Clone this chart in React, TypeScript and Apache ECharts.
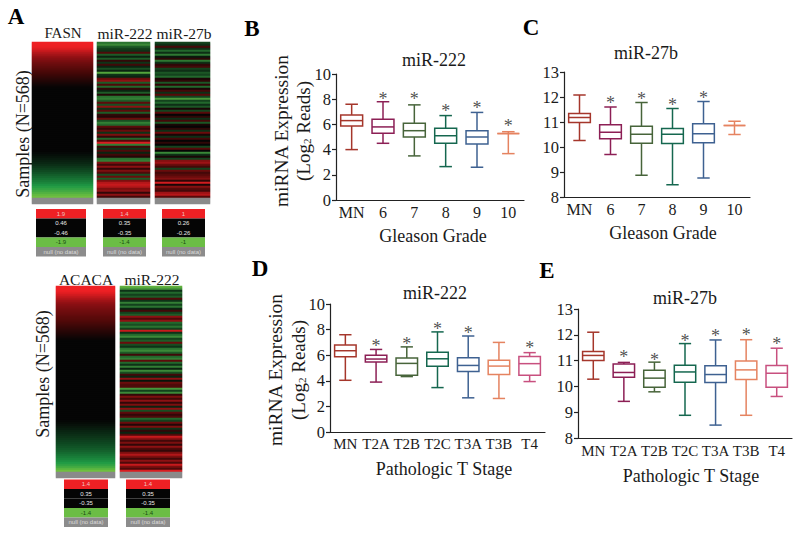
import React, { useEffect, useRef } from "react";
import * as echarts from "echarts";

const NULL_VALUE = 99;

const gleasonLabels = ["MN", "6", "7", "8", "9", "10"];
const stageLabels = ["MN", "T2A", "T2B", "T2C", "T3A", "T3B", "T4"];

// [min, q1, median, q3, max]
const boxB = [
  [4.0, 5.87, 6.3, 6.75, 7.6],
  [4.5, 5.3, 5.8, 6.4, 7.8],
  [3.5, 5.0, 5.5, 6.1, 7.55],
  [2.65, 4.5, 5.1, 5.7, 6.7],
  [2.6, 4.45, 5.0, 5.5, 6.95],
  [3.68, 5.27, 5.27, 5.27, 5.42],
];
const starB = [null, 8.33, 8.3, 7.4, 7.6, 6.16];

const boxC = [
  [10.26, 10.98, 11.18, 11.34, 12.08],
  [9.7, 10.33, 10.59, 10.89, 11.6],
  [8.87, 10.15, 10.51, 10.83, 11.78],
  [8.49, 10.14, 10.51, 10.74, 11.54],
  [8.76, 10.17, 10.53, 10.93, 11.82],
  [10.5, 10.86, 10.86, 10.86, 11.03],
];
const starC = [null, 11.94, 12.08, 11.84, 12.14, null];

const boxD = [
  [4.04, 5.88, 6.35, 6.8, 7.6],
  [3.9, 5.47, 5.7, 6.0, 6.45],
  [4.33, 4.43, 5.36, 5.78, 6.65],
  [3.47, 5.13, 5.72, 6.24, 7.82],
  [2.67, 4.72, 5.2, 5.8, 7.5],
  [2.62, 4.5, 5.15, 5.6, 7.0],
  [3.94, 4.43, 5.34, 5.9, 6.2],
];
const starD = [null, 7.05, 7.18, 8.39, 8.03, null, 6.87];

const boxE = [
  [10.28, 11.0, 11.2, 11.35, 12.1],
  [9.42, 10.35, 10.54, 10.87, 10.93],
  [9.79, 9.97, 10.32, 10.63, 10.94],
  [8.88, 10.16, 10.56, 10.82, 11.66],
  [8.5, 10.15, 10.46, 10.8, 11.8],
  [8.88, 10.27, 10.64, 10.98, 11.81],
  [9.61, 9.97, 10.51, 10.81, 11.48],
];
const starE = [null, 11.31, 11.18, 11.93, 12.12, 12.15, 11.81];

const boxColors = ["#a5362b", "#8c1f55", "#47643a", "#15674f", "#3e6191", "#e58360", "#c8507f"];

const fasnValues = [
  1.9, 1.9, 1.88, 1.82, 1.72, 1.62, 1.54, 1.46, 1.38, 1.3,
  1.22, 1.16, 1.1, 1.04, 0.98, 0.92, 0.86, 0.8, 0.74, 0.68,
  0.62, 0.56, 0.5, 0.46, 0.42, 0.39, 0.36, 0.33, 0.3, 0.27,
  0.24, 0.21, 0.18, 0.15, 0.12, 0.1, 0.07, 0.04, 0.02, 0,
  -0.02, -0.04, -0.07, -0.1, -0.12, -0.15, -0.18, -0.21, -0.24, -0.27,
  -0.3, -0.34, -0.38, -0.42, -0.46, -0.5, -0.54, -0.58, -0.62, -0.66,
  -0.7, -0.76, -0.82, -0.88, -0.94, -1, -1.06, -1.12, -1.18, -1.24,
  -1.3, -1.38, -1.46, -1.54, -1.62, -1.72, -1.82, -1.9,
];

const topMiR222 = [
  -0.8, -1.0, -0.6, -0.4, -0.3, 0.5, -0.6, -0.2, -0.6, 0.3,
  -0.3, 0.4, -0.2, -0.5, -0.2, -1.2, -0.3, -0.2, 0.7, 0.9,
  -0.6, 0.5, -0.7, 0.3, -0.2, -0.6, 0.2, -0.8, -0.9, -0.6,
  0.6, -0.5, 0.9, -0.3, 0.6, -0.6, 0.3, 0.2, 0.7, -0.5,
  -0.9, -0.7, 0.6, 0.3, 0.7, -0.3, 0.8, 0.3, -0.7, 0.5,
  1.3, -0.9, 0.4, -0.3, 0.5, -0.2, 0.4, 0.2, -0.8, -0.9,
  0.8, 0.4, 0.9, 0.3, 0.8, 0.5, -0.5, 0.7, -0.6, 0.8,
  1.1, 1.2, 1.1, 0.8, 0.9, 0.3, 0.9, 0.4,
];

const topMiR27b = [
  -0.3, -0.2, 0.3, -0.2, -0.5, -0.2, -0.6, -0.1, 0.2, -0.6,
  -0.2, 0.2, 0.3, -0.3, -0.2, -0.4, -0.3, -0.5, 0.1, 0.2,
  -0.4, 0.2, -0.5, 0.1, 0.3, -0.2, 0.4, -0.3, -0.8, -0.3,
  -0.5, -0.2, -0.4, 0.1, -0.3, 0.4, 0.0, 0.2, -0.2, 0.3,
  -0.4, 0.1, 0, 0.2, -0.2, 0.5, 0.1, -0.2, 0.3, 0,
  0.2, 0, -0.3, 0.4, 0, -0.7, -0.2, 0.1, -0.3, 0.6,
  0.7, 0.5, 0.3, -0.3, 0.5, 0.3, 0.4, 0.5, 0.6, 0.2,
  0.9, 0.1, 0.6, 0.4, 0.3, 0.7, 0.8, 0.4,
];

const acacaValues = [
  1.4, 1.4, 1.4, 1.36, 1.3, 1.24, 1.18, 1.12, 1.07, 1.02,
  0.98, 0.94, 0.9, 0.87, 0.84, 0.8, 0.77, 0.74, 0.7, 0.66,
  0.62, 0.58, 0.54, 0.5, 0.46, 0.42, 0.38, 0.35, 0.33, 0.31,
  0.29, 0.27, 0.25, 0.23, 0.21, 0.19, 0.17, 0.15, 0.14, 0.12,
  0.1, 0.09, 0.07, 0.05, 0.04, 0.02, 0.01, 0, -0.01, -0.02,
  -0.04, -0.05, -0.07, -0.08, -0.1, -0.12, -0.14, -0.16, -0.18, -0.2,
  -0.22, -0.24, -0.26, -0.28, -0.3, -0.32, -0.34, -0.36, -0.38, -0.41,
  -0.44, -0.47, -0.5, -0.53, -0.56, -0.59, -0.62, -0.65, -0.68, -0.71,
  -0.74, -0.77, -0.8, -0.84, -0.88, -0.92, -0.96, -1.0, -1.06, -1.12,
  -1.2, -1.3, -1.4,
];

const bottomMiR222 = [
  -1.3, -1.1, -0.3, -0.7, -0.4, -0.6, 0.5, -0.3, -0.9, -0.4,
  -0.8, -0.2, 0.4, -0.4, -0.6, 0.9, 0.5, 0.9, -0.7, -0.5,
  -0.8, -0.4, 1.2, -0.3, -0.7, -1.0, -0.4, -0.6, 0.7, -0.5,
  -0.3, -0.8, -1.0, -0.6, 0.4, -0.7, -0.9, 0.6, -0.7, -0.3,
  -0.9, -0.2, -1.0, -0.5, 0.4, -0.2, 0.9, -0.1, 0.7, 0.5,
  0.5, -1.1, -0.4, -1.0, 0.3, 0.8, 0.4, 0.9, 0.3, 0.8,
  -0.2, 0.9, -0.5, 0.6, 0.3, 0.5, -0.7, -0.4, 0.7, 0.2,
  0.8, -0.3, 0.3, -0.2, 0.5, 1.2, 0.9, 0.4, 0.8, 0.3,
  0.9, 0.5, 0.3, 0.8, 1.1, 0.8, 0.4, 0.9, 0.5, 1.2,
  0.8, 0.5, 1.3,
];

const legendFasn = ["1.9", "0.46", "-0.46", "-1.9", "null (no data)"];
const legend222 = ["1.4", "0.35", "-0.35", "-1.4", "null (no data)"];
const legend27b = ["1", "0.26", "-0.26", "-1", "null (no data)"];

const SERIF = "Liberation Serif";
const gradientStops = ["#6fbf3f", "#1f9a45", "#0f4a22", "#050505", "#050505", "#050505", "#4a0808", "#8e1014", "#ee2024"];
const stripeStops = ["#6fbf3f", "#3f8f3a", "#22682c", "#103a1a", "#050505", "#3a0808", "#6a0c0c", "#a81518", "#ee2024"];

function text(s: string, x: number, y: number, fontSize: number, extra: any = {}, rotation = 0) {
  return {
    type: "text",
    x,
    y,
    rotation,
    silent: true,
    style: {
      text: s,
      fontFamily: SERIF,
      fontSize,
      fill: "#1a1a1a",
      textAlign: "center",
      textVerticalAlign: "middle",
      ...extra,
    },
  };
}

function legendTile(labels: string[], x: number, y: number, w: number) {
  const rows = [
    { h: 9.5, c: "#ee2024", t: "#f0c0c0" },
    { h: 9.5, c: "#050505", t: "#e8e8e8" },
    { h: 9.5, c: "#050505", t: "#e8e8e8" },
    { h: 9.5, c: "#6bbd45", t: "#174d12" },
    { h: 9.5, c: "#8c8c8c", t: "#dcdcdc" },
  ];
  const out: any[] = [];
  let cy = y;
  rows.forEach((r, i) => {
    out.push({ type: "rect", silent: true, shape: { x, y: cy, width: w, height: r.h }, style: { fill: r.c } });
    out.push(text(labels[i], x + w / 2, cy + r.h / 2, 6, { fontFamily: "Liberation Sans", fill: r.t }));
    cy += r.h;
  });
  return out;
}

export default function App() {
  const ref = useRef<HTMLDivElement>(null);

  useEffect(() => {
    const chart = echarts.init(ref.current!, undefined, { renderer: "svg" });

    const grids: any[] = [];
    const xAxes: any[] = [];
    const yAxes: any[] = [];
    const series: any[] = [];
    const visualMaps: any[] = [];

    const addHeat = (values: number[], left: number, top: number, width: number, nullRows: number, scale: number, stops: string[]) => {
      const idx = grids.length;
      const n = values.length + nullRows;
      grids.push({ left, top, width, height: n * 2 });
      xAxes.push({ gridIndex: idx, type: "category", data: ["c"], show: false });
      yAxes.push({
        gridIndex: idx,
        type: "category",
        data: Array.from({ length: n }, (_, i) => String(i)),
        inverse: true,
        show: false,
      });
      visualMaps.push({
        show: false,
        type: "continuous",
        seriesIndex: series.length,
        dimension: 2,
        min: -scale,
        max: scale,
        inRange: { color: stops },
      });
      series.push({
        type: "heatmap",
        xAxisIndex: idx,
        yAxisIndex: idx,
        data: values.map((v, i) => [0, i, v]),
        itemStyle: { borderWidth: 0 },
      });
      visualMaps.push({
        show: false,
        type: "continuous",
        seriesIndex: series.length,
        dimension: 2,
        min: 0,
        max: NULL_VALUE,
        inRange: { color: ["#8a8a8a", "#8a8a8a"] },
      });
      series.push({
        type: "heatmap",
        xAxisIndex: idx,
        yAxisIndex: idx,
        data: Array.from({ length: nullRows }, (_, i) => [0, values.length + i, NULL_VALUE]),
        itemStyle: { borderWidth: 0 },
      });
    };

    addHeat(fasnValues, 32, 42, 61, 3, 1.9, gradientStops);
    addHeat(topMiR222, 97, 42, 53, 3, 1.4, stripeStops);
    addHeat(topMiR27b, 155, 42, 55, 3, 1, stripeStops);
    addHeat(acacaValues, 56, 286, 59, 3, 1.4, gradientStops);
    addHeat(bottomMiR222, 120, 286, 62, 3, 1.4, stripeStops);

    const addBox = (
      cats: string[],
      rows: number[][],
      stars: (number | null)[],
      g: { left: number; top: number; width: number; height: number },
      yMin: number,
      yMax: number,
      yInterval: number,
      labelSize: number,
      labelMargin: number
    ) => {
      const idx = grids.length;
      grids.push(g);
      const line = { lineStyle: { color: "#222", width: 1.2 } };
      xAxes.push({
        gridIndex: idx,
        type: "category",
        data: cats,
        boundaryGap: true,
        axisLine: line,
        axisTick: { alignWithLabel: true, length: 4, lineStyle: line.lineStyle },
        axisLabel: { interval: 0, fontFamily: SERIF, fontSize: labelSize, color: "#1a1a1a", margin: labelMargin },
        splitLine: { show: false },
      });
      yAxes.push({
        gridIndex: idx,
        type: "value",
        min: yMin,
        max: yMax,
        interval: yInterval,
        axisLine: { show: true, ...line },
        axisTick: { show: true, length: 4, lineStyle: line.lineStyle },
        axisLabel: { fontFamily: SERIF, fontSize: 16.5, color: "#1a1a1a", margin: 5 },
        splitLine: { show: false },
      });
      series.push({
        type: "custom",
        xAxisIndex: idx,
        yAxisIndex: idx,
        clip: false,
        encode: { x: 0, y: [1, 2, 3, 4, 5] },
        data: rows.map((r, i) => [i, ...r]),
        renderItem: (_p: any, api: any) => {
          const i = api.value(0);
          const color = boxColors[i];
          const band = api.size([1, 0])[0];
          const pt = (v: number) => api.coord([i, v]);
          const [cx, yLow] = pt(api.value(1));
          const yQ1 = pt(api.value(2))[1];
          const yMed = pt(api.value(3))[1];
          const yQ3 = pt(api.value(4))[1];
          const yHigh = pt(api.value(5))[1];
          const half = band * 0.35;
          const cap = band * 0.2;
          const style = { stroke: color, lineWidth: 1.5, fill: "none" };
          const ln = (x1: number, y1: number, x2: number, y2: number) => ({
            type: "line",
            shape: { x1, y1, x2, y2 },
            style,
          });
          return {
            type: "group",
            children: [
              ln(cx, yHigh, cx, yQ3),
              ln(cx, yQ1, cx, yLow),
              ln(cx - cap, yHigh, cx + cap, yHigh),
              ln(cx - cap, yLow, cx + cap, yLow),
              { type: "rect", shape: { x: cx - half, y: yQ3, width: half * 2, height: yQ1 - yQ3 }, style },
              ln(cx - half, yMed, cx + half, yMed),
            ],
          };
        },
      });
      series.push({
        type: "scatter",
        xAxisIndex: idx,
        yAxisIndex: idx,
        symbolSize: 1,
        itemStyle: { color: "transparent" },
        data: stars.map((s, i) => (s === null ? null : [i, s])).filter(Boolean),
        label: {
          show: true,
          formatter: "*",
          position: "inside",
          fontFamily: SERIF,
          fontSize: 18,
          color: "#222",
          offset: [0, 4],
        },
      });
    };

    addBox(gleasonLabels, boxB, starB, { left: 336, top: 74, width: 188, height: 126 }, 0, 10, 2, 16, 4);
    addBox(gleasonLabels, boxC, starC, { left: 564, top: 72, width: 186, height: 125 }, 8, 13, 1, 16, 4);
    addBox(stageLabels, boxD, starD, { left: 330, top: 304, width: 215, height: 128 }, 0, 10, 2, 15, 4);
    addBox(stageLabels, boxE, starE, { left: 578, top: 309, width: 214, height: 129 }, 8, 13, 1, 15, 5);

    const subRich = { s: { fontFamily: SERIF, fontSize: 11, verticalAlign: "bottom", fill: "#1a1a1a", lineHeight: 16 } };
    const up = Math.PI / 2;

    const graphics: any[] = [
      text("A", 16, 16, 23, { fontWeight: "bold", fill: "#000" }),
      text("B", 252, 28, 23, { fontWeight: "bold", fill: "#000" }),
      text("C", 531, 27, 23, { fontWeight: "bold", fill: "#000" }),
      text("D", 260, 268, 23, { fontWeight: "bold", fill: "#000" }),
      text("E", 547, 270, 23, { fontWeight: "bold", fill: "#000" }),

      text("FASN", 63, 33, 15),
      text("miR-222", 125, 33, 15.5),
      text("miR-27b", 184, 33, 15.5),
      text("Samples (N=568)", 23, 134, 18, {}, up),
      text("ACACA", 86, 279, 15.5),
      text("miR-222", 152, 279, 15.5),
      text("Samples (N=568)", 43, 374, 18, {}, up),
      text("null", 86, 475, 6, { fontFamily: "Liberation Sans", fill: "#222" }),

      ...legendTile(legendFasn, 36, 209, 50),
      ...legendTile(legend222, 103, 209, 43),
      ...legendTile(legend27b, 162, 209, 43),
      ...legendTile(legend222, 64, 479.5, 44),
      ...legendTile(legend222, 126, 479.5, 44),

      text("miR-222", 434, 60, 18),
      text("Gleason Grade", 433, 236, 18),
      text("miRNA Expression", 281, 131, 19.5, {}, up),
      text("(Log{s|2} Reads)", 303, 131, 19, { rich: subRich }, up),

      text("miR-27b", 646, 53, 18),
      text("Gleason Grade", 663, 233, 18),

      text("miR-222", 435, 293, 18),
      text("Pathologic T Stage", 444, 469, 18),
      text("miRNA Expression", 275, 370, 19.5, {}, up),
      text("(Log{s|2} Reads)", 298, 370, 19, { rich: subRich }, up),

      text("miR-27b", 685, 298, 18),
      text("Pathologic T Stage", 691, 476, 18),
    ];

    chart.setOption({
      animation: false,
      backgroundColor: "#fff",
      grid: grids,
      xAxis: xAxes,
      yAxis: yAxes,
      visualMap: visualMaps,
      series,
      graphic: graphics,
    });

    return () => chart.dispose();
  }, []);

  return <div ref={ref} style={{ position: "absolute", left: 0, top: 0, width: 800, height: 534 }} />;
}
